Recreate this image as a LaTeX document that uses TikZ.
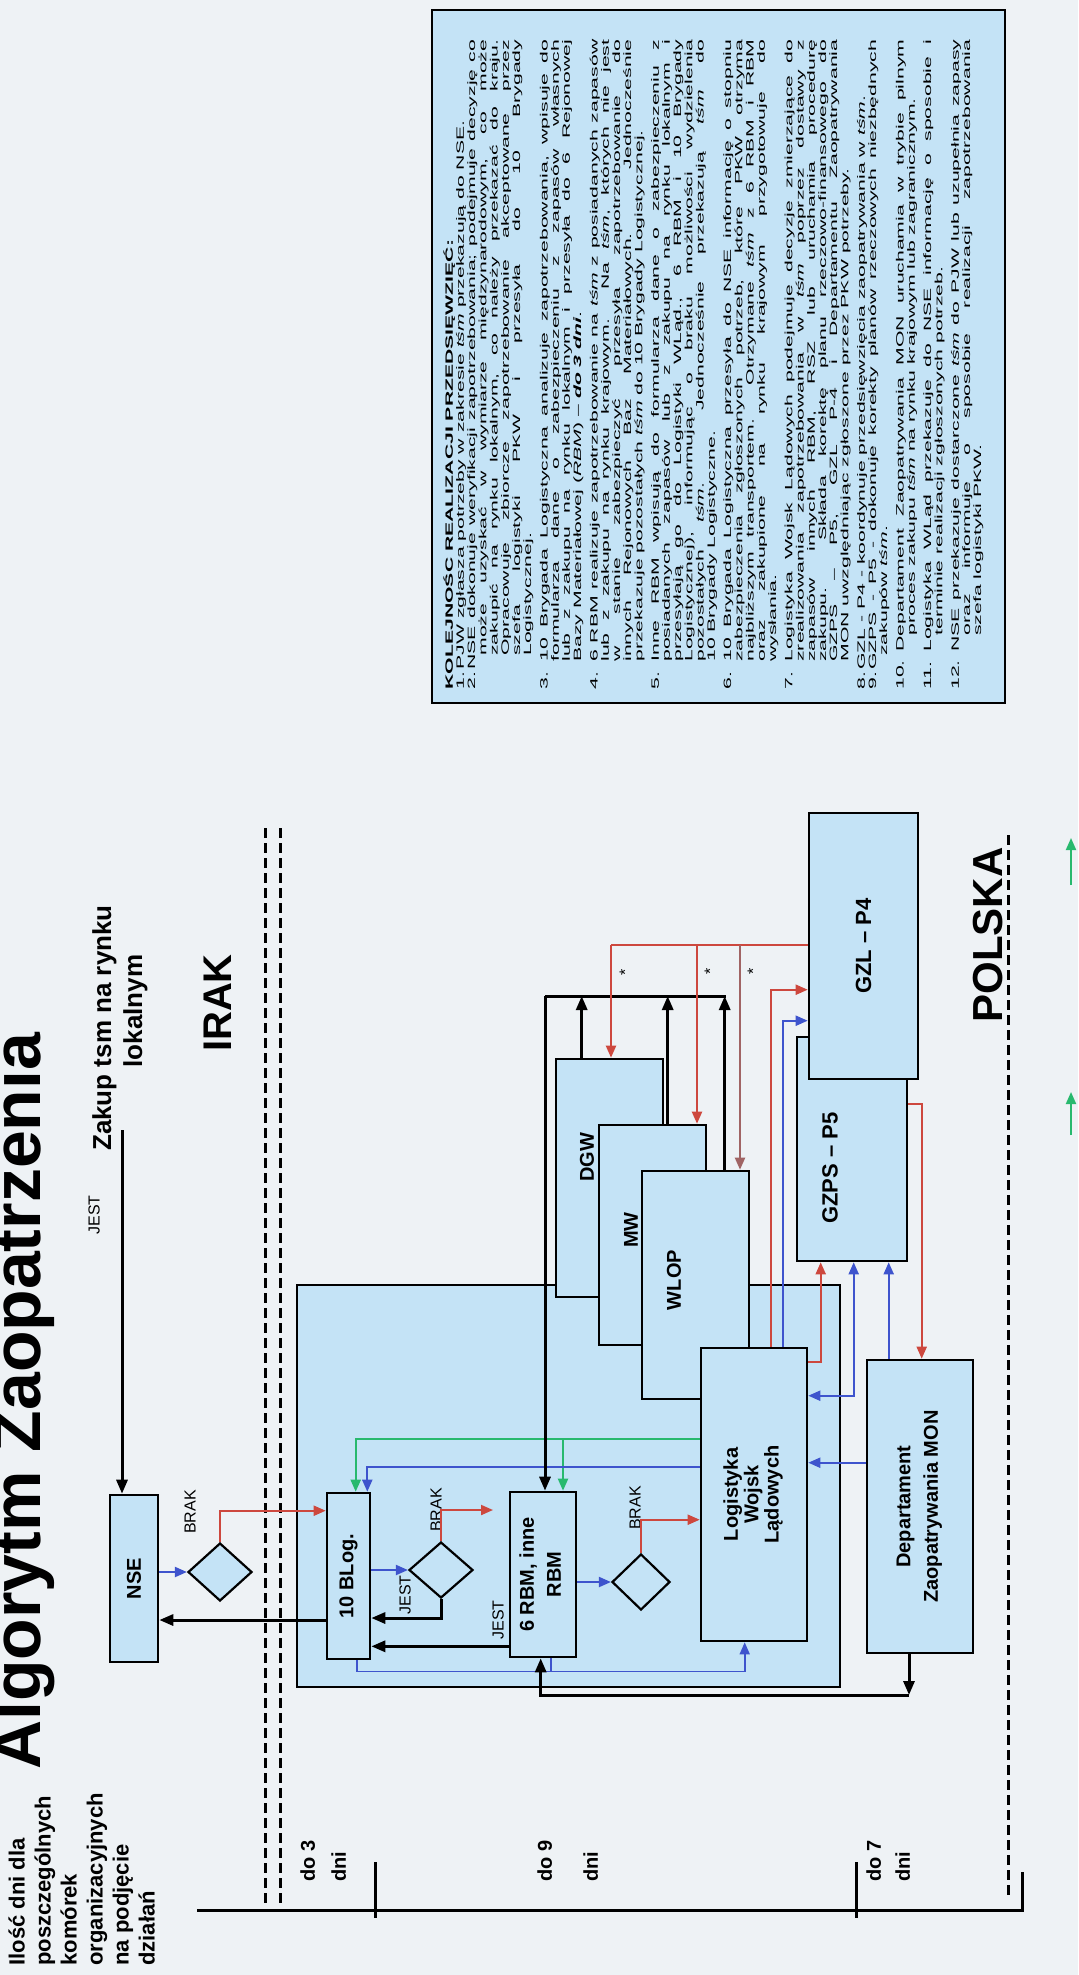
\documentclass[tikz,border=0pt]{standalone}
\usepackage{fontspec}
\usepackage{graphicx}
\setmainfont{Liberation Sans}
\newfontfamily\wide[FakeStretch=2.0]{Liberation Sans}
\usetikzlibrary{arrows.meta,shapes.geometric,calc}

\definecolor{paper}{RGB}{238,242,245}
\definecolor{boxblue}{RGB}{196,227,246}
\definecolor{lred}{RGB}{205,72,62}
\definecolor{lblue}{RGB}{62,84,205}
\definecolor{lgreen}{RGB}{40,185,110}
\definecolor{lgrey}{RGB}{160,100,100}

\newcommand{\tsm}{\textit{tśm}}
\newcommand{\pkt}[3]{\par\hangindent=#2\hangafter=1\noindent\makebox[#1][l]{#3}}

\begin{document}
\begin{tikzpicture}[x=0.5pt, y=-0.5pt,
  box/.style={draw, line width=1.3pt, fill=boxblue, inner sep=0pt,
    font=\bfseries\fontsize{10}{10}\selectfont},
  area/.style={draw, line width=1.3pt, fill=boxblue, inner sep=0pt},
  decision/.style={draw, line width=1.1pt, fill=boxblue, diamond, inner sep=0pt},
  boxlbl/.style={rotate=90, inner sep=0pt, font=\bfseries\fontsize{10}{12}\selectfont},
  note/.style={rotate=90, inner sep=0pt, font=\fontsize{8}{9}\selectfont},
  big/.style={rotate=90, inner sep=0pt, font=\bfseries\fontsize{20}{24}\selectfont},
  days/.style={rotate=90, inner sep=0pt, align=left, font=\bfseries\fontsize{10}{12}\selectfont},
  karr/.style={line width=1.5pt, -{Triangle[length=7pt,width=5.5pt]}},
  rarr/.style={lred, line width=1pt, -{Triangle[length=6pt,width=5pt]}},
  barr/.style={lblue, line width=1pt, -{Triangle[length=6pt,width=5pt]}},
  garr/.style={lgreen, line width=1pt, -{Triangle[length=6pt,width=5pt]}},
  border/.style={line width=1.5pt, dash pattern=on 5pt off 2.5pt},
]
  \def\ybus{996} % black collecting line
  \def\yred{945} % red distributing line

  % PAGE
  \useasboundingbox (0,0) rectangle (1078,1975);
  \clip (0,0) rectangle (1078,1975);
  \fill[paper] (0,0) rectangle (1078,1975);

  % TITLE AND SIDE TEXTS
  \node[rotate=90, anchor=base west, inner sep=0pt,
    font=\bfseries\fontsize{34}{40}\selectfont] (title) at (40,1770) {Algorytm Zaopatrzenia};
  \node[rotate=90, anchor=north west, align=left, inner sep=0pt,
    font=\bfseries\fontsize{11}{13}\selectfont] (ilosc) at (8,1966)
    {Ilość dni dla\\poszczególnych\\komórek\\organizacyjnych\\na podjęcie\\działań};
  \node[rotate=90, align=center, inner sep=0pt,
    font=\bfseries\fontsize{13}{15.5}\selectfont] (zakup) at (120,1028)
    {Zakup tsm na rynku\\\hspace*{17pt}lokalnym};
  \coordinate (zk) at (122,1130);
  \node[note] (jest1) at (94,1215) {JEST};

  \node[big] (irak) at (218,1003) {IRAK};
  \node[big, font=\bfseries\fontsize{21}{24}\selectfont] (polska) at (988,935) {POLSKA};
  \draw[border] (265,828) -- (265,1905);
  \draw[border] (280,828) -- (280,1905);
  \draw[border] (1008,835) -- (1008,1895);

  % TEXT BOX
  \node[draw, line width=1.3pt, fill=boxblue, minimum width=286.5pt, minimum height=346.5pt,
    inner sep=0pt] (kolbox) at (718.5,356.5) {};
  \node[rotate=90, anchor=north west, text width=325pt, align=justify, inner sep=0pt,
    font=\wide\fontsize{5.3}{5.6}\selectfont] (koltxt) at (443,690) {%
    {\bfseries KOLEJNOŚC REALIZACJI PRZEDSIĘWZIĘĆ:}\par
    \pkt{10pt}{10pt}{1.}PJW zgłasza potrzeby w zakresie \tsm{} przekazują do NSE.\par
    \pkt{10pt}{17pt}{2.}NSE dokonuje weryfikacji zapotrzebowania; podejmuje decyzję co\linebreak
      może uzyskać w wymiarze międzynarodowym, co może\linebreak
      zakupić na rynku lokalnym, co należy przekazać do kraju.\linebreak
      Opracowuje zbiorcze zapotrzebowanie akceptowane przez\linebreak
      szefa logistyki PKW i przesyła do 10 Brygady\linebreak
      Logistycznej.\par\vspace{2.6pt}
    \pkt{14pt}{14pt}{3.}10 Brygada Logistyczna analizuje zapotrzebowania, wpisuje do\linebreak
      formularza dane o zabezpieczeniu z zapasów własnych\linebreak
      lub z zakupu na rynku lokalnym i przesyła do 6 Rejonowej\linebreak
      Bazy Materiałowej (\textit{RBM}) – \textbf{\textit{do 3 dni}}.\par\vspace{2.6pt}
    \pkt{14pt}{14pt}{4.}6 RBM realizuje zapotrzebowanie na \tsm{} z posiadanych zapasów\linebreak
      lub z zakupu na rynku krajowym. Na \tsm, których nie jest\linebreak
      w stanie zabezpieczyć przesyła zapotrzebowanie do\linebreak
      innych Rejonowych Baz Materiałowych. Jednocześnie\linebreak
      przekazuje pozostałych \tsm{} do 10 Brygady Logistycznej.\par\vspace{2.6pt}
    \pkt{14pt}{14pt}{5.}Inne RBM wpisują do formularza dane o zabezpieczeniu z\linebreak
      posiadanych zapasów lub z zakupu na rynku lokalnym i\linebreak
      przesyłają go do Logistyki WLąd., 6 RBM i 10 Brygady\linebreak
      Logistycznej), informując o braku możliwości wydzielenia\linebreak
      pozostałych \tsm. Jednocześnie przekazują \tsm{} do\linebreak
      10 Brygady Logistyczne.\par\vspace{2.6pt}
    \pkt{14pt}{14pt}{6.}10 Brygada Logistyczna przesyła do NSE informację o stopniu\linebreak
      zabezpieczenia zgłoszonych potrzeb, które PKW otrzyma\linebreak
      najbliższym transportem. Otrzymane \tsm{} z 6 RBM i RBM\linebreak
      oraz zakupione na rynku krajowym przygotowuje do\linebreak
      wysłania.\par\vspace{2.6pt}
    \pkt{14pt}{14pt}{7.}Logistyka Wojsk Lądowych podejmuje decyzje zmierzające do\linebreak
      zrealizowania zapotrzebowania w \tsm{} poprzez dostawy z\linebreak
      zapasów innych RBM, RSZ lub uruchamia procedurę\linebreak
      zakupu. Składa korektę planu rzeczowo-finansowego do\linebreak
      GZPS – P5, GZL P-4 i Departamentu Zaopatrywania\linebreak
      MON uwzględniając zgłoszone przez PKW potrzeby.\par\vspace{2.6pt}
    \pkt{10pt}{17pt}{8.}GZL - P4 - koordynuje przedsięwzięcia zaopatrywania w \tsm.\par
    \pkt{10pt}{17pt}{9.}GZPS - P5 - dokonuje korekty planów rzeczowych niezbędnych\linebreak
      zakupów \tsm.\par\vspace{2.6pt}
    \pkt{19pt}{27pt}{10.}Departament Zaopatrywania MON uruchamia w trybie pilnym\linebreak
      proces zakupu \tsm{} na rynku krajowym lub zagranicznym.\par\vspace{2.6pt}
    \pkt{19pt}{27pt}{11.}Logistyka WLąd przekazuje do NSE informację o sposobie i\linebreak
      terminie realizacji zgłoszonych potrzeb.\par\vspace{2.6pt}
    \pkt{19pt}{27pt}{12.}NSE przekazuje dostarczone \tsm{} do PJW lub uzupełnia zapasy\linebreak
      oraz informuje o sposobie realizacji zapotrzebowania\linebreak
      szefa logistyki PKW.\par};

  % BOXES
  \node[area, minimum width=271.5pt, minimum height=201pt] (reg) at (568.5,1486) {};
  \node[box, minimum width=53.5pt, minimum height=119pt] (dgw) at (609.5,1178) {};
  \node[box, minimum width=53.5pt, minimum height=110pt] (mw) at (652.5,1235) {};
  \node[box, minimum width=53.5pt, minimum height=114pt] (wlop) at (695.5,1285) {};
  \node[boxlbl] (dgwt) at (587,1157) {DGW};
  \node[boxlbl] (mwt) at (631,1230) {MW};
  \node[boxlbl] (wlopt) at (674,1280) {WLOP};
  \node[box, minimum width=55pt, minimum height=112pt] (gzps) at (852,1149) {};
  \node[boxlbl, font=\bfseries\fontsize{11}{12}\selectfont] (gzpst) at (830,1168) {GZPS – P5};
  \node[box, minimum width=54.5pt, minimum height=133pt,
    font=\bfseries\fontsize{11}{12}\selectfont] (gzl) at (863.5,946) {\rotatebox{90}{GZL – P4}};
  \node[box, minimum width=53pt, minimum height=146.5pt] (log) at (754,1494.5)
    {\rotatebox{90}{\begin{tabular}{@{}c@{}}Logistyka\\Wojsk\\Lądowych\end{tabular}}};
  \node[box, minimum width=53pt, minimum height=146.5pt] (dep) at (920,1506.5)
    {\rotatebox{90}{\begin{tabular}{@{}c@{}}Departament\\[3.5pt]Zaopatrywania MON\end{tabular}}};
  \node[box, minimum width=24pt, minimum height=83.5pt] (nse) at (134,1578.5) {\rotatebox{90}{NSE}};
  \node[box, minimum width=21.5pt, minimum height=83pt] (blog) at (348.5,1576) {\rotatebox{90}{10 BLog.}};
  \node[box, minimum width=33pt, minimum height=82.5pt] (rbm) at (543,1574.5)
    {\rotatebox{90}{\begin{tabular}{@{}c@{}}6 RBM, inne\\[3.5pt]RBM\end{tabular}}};
  \node[decision, minimum width=32pt, minimum height=29pt] (d1) at (220,1572) {};
  \node[decision, minimum width=32pt, minimum height=28pt] (d2) at (441,1570) {};
  \node[decision, minimum width=29pt, minimum height=28pt] (d3) at (641,1582) {};

  \node[note] (brak1) at (190,1512) {BRAK};
  \node[note] (brak2) at (436,1510) {BRAK};
  \node[note] (brak3) at (635,1508) {BRAK};
  \node[note] (jest2) at (405,1595) {JEST};
  \node[note] (jest3) at (498,1620) {JEST};

  % IRAK PART
  \draw[karr] (zk) -- (zk |- nse.north);
  \draw[barr] (nse.east |- d1.west) -- (d1.west);
  \draw[rarr] (d1.north) |- ($(blog.north west)+(0,19)$);
  \draw[barr] (blog.east |- d2.west) -- (d2.west);
  \coordinate (r2) at (493,1510);
  \draw[rarr] (d2.north) |- (r2);
  \draw[karr] (d2.south) |- ($(blog.east)+(0,42)$);
  \draw[karr] ($(rbm.south west)+(0,-12)$) coordinate (k6) -- (blog.east |- k6);
  \draw[karr] ($(blog.west)+(0,44)$) coordinate (k10) -- (nse.east |- k10);
  \draw[barr] (rbm.east |- d3.west) -- (d3.west);
  \draw[rarr] (d3.north) |- ($(log.north west)+(0,173)$);
  \draw[garr] ($(log.north west)+(0,92)$) -| ($(blog.north west)+(30,0)$);
  \coordinate (gj) at (563,1440);
  \draw[garr] (gj) -- (gj |- rbm.north);
  \draw[barr] ($(log.north west)+(0,120)$) -| ($(blog.north east)+(-4,0)$);
  \draw[barr, line width=0.8pt] ($(blog.south west)+(31,0)$) |- ($(log.south west)+(45,29)$)
    -- ($(log.south west)+(45,0)$);
  \draw[lblue, line width=0.8pt] ($(rbm.south west)+(42,0)$) -- ++(0,13);

  % DGW, MW, WLOP
  \coordinate (kb) at (545,\ybus);
  \coordinate (kb2) at (726,\ybus);
  \draw[line width=1.5pt] (kb) -- (kb2);
  \draw[karr] (kb) -- (kb |- rbm.north);
  \draw[karr] ($(dgw.north west)+(27,0)$) coordinate (kd1) -- (kd1 |- kb);
  \draw[karr] ($(mw.north west)+(70,0)$) coordinate (kd2) -- (kd2 |- kb);
  \draw[karr] ($(wlop.north west)+(84,0)$) coordinate (kd3) -- (kd3 |- kb);
  \coordinate (rb) at (611,\yred);
  \coordinate (rb2) at (697,\yred);
  \coordinate (rb3) at (740,\yred);
  \draw[lred, line width=1pt] (rb) -- (gzl.west |- rb);
  \draw[rarr] (rb) -- (rb |- dgw.north);
  \draw[rarr] (rb2) -- (rb2 |- mw.north);
  \draw[rarr, lgrey] (rb3) -- (rb3 |- wlop.north);
  \node[note] (st1) at (625,972) {*};
  \node[note] (st2) at (710,971) {*};
  \node[note] (st3) at (753,971) {*};

  % POLSKA PART
  \draw[rarr] ($(log.north west)+(71,0)$) |- ($(gzl.north west)+(0,178)$);
  \draw[barr] ($(log.north west)+(83,0)$) |- ($(gzl.north west)+(0,209)$);
  \draw[rarr] ($(log.north east)+(0,15)$) -| ($(gzps.south west)+(25,0)$);
  \draw[barr, {Triangle[length=6pt,width=5pt]}-{Triangle[length=6pt,width=5pt]}]
    ($(log.north east)+(0,49)$) -| ($(gzps.south west)+(58,0)$);
  \draw[barr] ($(dep.north west)+(23,0)$) coordinate (bd) -- (bd |- gzps.south);
  \draw[rarr] ($(gzps.north east)+(0,68)$) -| ($(dep.north west)+(56,0)$);
  \draw[barr] ($(dep.north west)+(0,104)$) coordinate (bd2) -- (log.east |- bd2);
  \coordinate (kd) at (909,1695);
  \draw[karr] (kd |- dep.south) -- (kd);
  \draw[karr] (kd) -| ($(rbm.south west)+(32,0)$);
  \draw[garr] (1071,885) -- (1071,838);
  \draw[garr] (1071,1135) -- (1071,1092);

  % DAYS
  \draw[line width=1.5pt] (197,1910) -- (1022,1910) -- (1022,1872);
  \draw[line width=1.5pt] (375,1862) -- (375,1918);
  \draw[line width=1.5pt] (856,1862) -- (856,1918);
  \node[days, anchor=north west] (do3) at (300,1882) {do 3\\[3.5pt]dni};
  \node[days, anchor=north west] (do9) at (537,1882) {do 9\\[11pt]dni};
  \node[days, anchor=north west] (do7) at (866,1882) {do 7\\[2.5pt]dni};
\end{tikzpicture}
\end{document}
